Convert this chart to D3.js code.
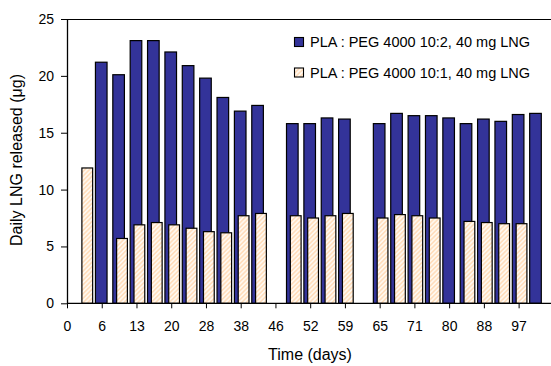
<!DOCTYPE html>
<html>
<head>
<meta charset="utf-8">
<script src="https://cdn.jsdelivr.net/npm/d3@7"></script>
<style>
  html, body { margin: 0; padding: 0; background: #fff; }
  svg { display: block; font-family: "Liberation Sans", Arial, sans-serif; }
</style>
</head>
<body>
<svg id="chart" width="551" height="366"></svg>
<script>
// Categories (days) — only every second label is shown on the axis
const days = ["0","3","6","10","13","17","20","24","28","34","38","42","46","49","52","56","59","62","65","68","71","76","80","84","88","92","97","101"];
// PLA : PEG 4000 10:2, 40 mg LNG
const series102 = [null,null,21.2,20.1,23.1,23.1,22.1,20.9,19.8,18.1,16.9,17.4,null,15.8,15.8,16.3,16.2,null,15.8,16.7,16.5,16.5,16.3,15.8,16.2,16.0,16.6,16.7];
// PLA : PEG 4000 10:1, 40 mg LNG
const series101 = [null,11.9,null,5.7,6.9,7.1,6.9,6.6,6.3,6.2,7.7,7.9,null,7.7,7.5,7.7,7.9,null,7.5,7.8,7.7,7.5,null,7.2,7.1,7.0,7.0,null];
const yTicks = [0,5,10,15,20,25];
const legendLabels = ["PLA : PEG 4000 10:2, 40 mg LNG", "PLA : PEG 4000 10:1, 40 mg LNG"];

const svg = d3.select("#chart");
const mLeft = 67, mTop = 19, mBottom = 303.3, mRight = 553.5;
const step = 17.37;

const x = d3.scalePoint().domain(days).range([mLeft, mLeft + step * (days.length - 1)]);
const y = d3.scaleLinear().domain([0, 25]).range([mBottom, mTop]);

// hatch pattern
const defs = svg.append("defs");
const pat = defs.append("pattern").attr("id", "hatch")
  .attr("patternUnits", "userSpaceOnUse").attr("width", 3.2).attr("height", 3.2)
  .attr("patternTransform", "rotate(45)");
pat.append("rect").attr("width", 3.2).attr("height", 3.2).attr("fill", "#fff8ef");
pat.append("line").attr("x1", 0.8).attr("y1", 0).attr("x2", 0.8).attr("y2", 3.2)
  .attr("stroke", "#ffd2a6").attr("stroke-width", 1.1);

// frame
svg.append("line").attr("x1", mLeft).attr("x2", mRight).attr("y1", mTop + 0.5).attr("y2", mTop + 0.5)
  .attr("stroke", "#000").attr("stroke-width", 1);

const blueW = x.step() * 0.668, creamW = x.step() * 0.62;
const idx = d3.range(days.length);

// blue bars
svg.append("g").selectAll("rect").data(idx.filter(i => series102[i] != null)).join("rect")
  .attr("x", i => x(days[i]) - blueW / 2 - 0.5)
  .attr("y", i => y(series102[i]))
  .attr("width", blueW)
  .attr("height", i => mBottom - y(series102[i]))
  .attr("fill", "#333399").attr("stroke", "#000").attr("stroke-width", 1.2);

// cream bars (in front, offset right)
svg.append("g").selectAll("rect").data(idx.filter(i => series101[i] != null)).join("rect")
  .attr("x", i => x(days[i]) - creamW / 2 + 2.9)
  .attr("y", i => y(series101[i]))
  .attr("width", creamW)
  .attr("height", i => mBottom - y(series101[i]))
  .attr("fill", "url(#hatch)").attr("stroke", "#000").attr("stroke-width", 1.2);

// y axis
const gy = svg.append("g").attr("transform", `translate(${mLeft},0)`)
  .call(d3.axisLeft(y).tickValues(yTicks).tickSize(6).tickSizeOuter(0).tickPadding(7));
gy.select(".domain").attr("stroke-width", 1.3);
gy.selectAll("text").attr("font-size", 14).attr("font-family", "Liberation Sans, Arial, sans-serif").attr("fill", "#000");

// x axis
const gx = svg.append("g").attr("transform", `translate(0,${mBottom})`)
  .call(d3.axisBottom(x).tickValues(days.filter((d, i) => i % 2 === 0)).tickSize(5).tickSizeOuter(0).tickPadding(13));
gx.select(".domain").remove();
gx.selectAll("text").attr("font-size", 14).attr("font-family", "Liberation Sans, Arial, sans-serif").attr("fill", "#000");
svg.append("line").attr("x1", mLeft).attr("x2", mRight).attr("y1", mBottom).attr("y2", mBottom)
  .attr("stroke", "#000").attr("stroke-width", 1.3);

// axis titles
svg.append("text").attr("x", 310).attr("y", 360).attr("text-anchor", "middle")
  .attr("font-size", 16).text("Time (days)");
svg.append("text").attr("transform", "translate(21.5,160) rotate(-90)").attr("text-anchor", "middle")
  .attr("font-size", 16).text("Daily LNG released (\u03bcg)");

// legend
const lg = svg.append("g");
lg.append("rect").attr("x", 288).attr("y", 29).attr("width", 250).attr("height", 58).attr("fill", "#fff");
const fills = ["#333399", "url(#hatch)"];
legendLabels.forEach((t, i) => {
  const yy = 37.5 + i * 30.5;
  lg.append("rect").attr("x", 294.5).attr("y", yy).attr("width", 9).attr("height", 9)
    .attr("fill", fills[i]).attr("stroke", "#000").attr("stroke-width", 1.1);
  lg.append("text").attr("x", 310).attr("y", yy + 9.5).attr("font-size", 14.5).text(t);
});
</script>
</body>
</html>
